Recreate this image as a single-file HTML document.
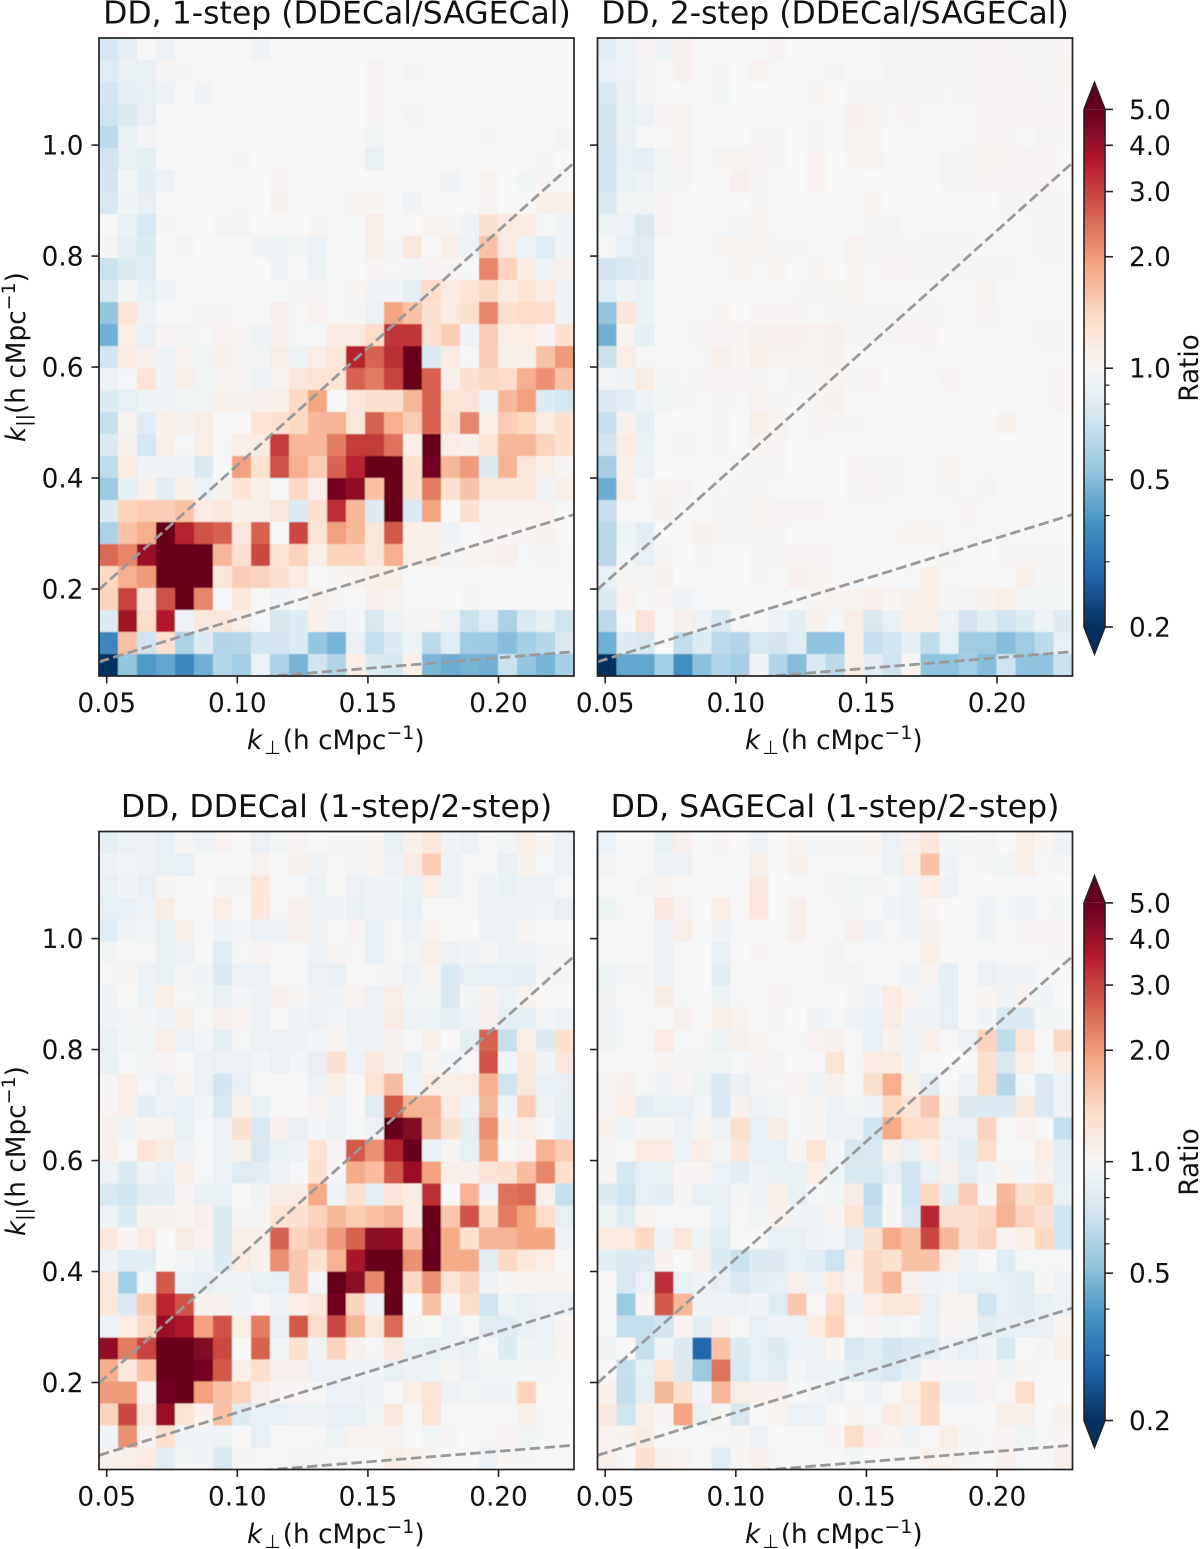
<!DOCTYPE html>
<html lang="en">
<head>
<meta charset="utf-8">
<title>Power spectrum ratio panels</title>
<style>
html,body{margin:0;padding:0;background:#fff;}
svg{display:block;}
text{font-family:"DejaVu Sans","Liberation Sans",sans-serif;fill:#111;}
</style>
</head>
<body>
<svg id="figure" xmlns="http://www.w3.org/2000/svg" width="1200" height="1549" viewBox="0 0 1200 1549">
  <defs>
    <linearGradient id="rdbu" x1="0" y1="1" x2="0" y2="0"></linearGradient>
    <filter id="soften" x="-2%" y="-2%" width="104%" height="104%"><feGaussianBlur stdDeviation="0.6"/></filter>
    <clipPath id="clip-a"><rect x="99" y="38" width="475" height="638"/></clipPath>
    <clipPath id="clip-b"><rect x="597.5" y="38" width="475" height="638"/></clipPath>
    <clipPath id="clip-c"><rect x="99" y="831.5" width="475" height="638"/></clipPath>
    <clipPath id="clip-d"><rect x="597.5" y="831.5" width="475" height="638"/></clipPath>
  </defs>
  <g id="plots"></g>
  <g font-size="31.5" text-anchor="middle">
    <text x="337" y="23.5">DD, 1-step (DDECal/SAGECal)</text>
    <text x="835" y="23.5">DD, 2-step (DDECal/SAGECal)</text>
    <text x="336.5" y="817">DD, DDECal (1-step/2-step)</text>
    <text x="835" y="817">DD, SAGECal (1-step/2-step)</text>
  </g>
  <g font-size="26.3">
    <text x="247" y="749"><tspan font-style="italic">k</tspan><tspan font-size="19" dx="2" dy="5">⊥</tspan><tspan dx="2" dy="-5">(h cMpc</tspan><tspan font-size="19" dy="-10">−1</tspan><tspan dy="10">)</tspan></text>
    <text x="745" y="749"><tspan font-style="italic">k</tspan><tspan font-size="19" dx="2" dy="5">⊥</tspan><tspan dx="2" dy="-5">(h cMpc</tspan><tspan font-size="19" dy="-10">−1</tspan><tspan dy="10">)</tspan></text>
    <text x="247" y="1543"><tspan font-style="italic">k</tspan><tspan font-size="19" dx="2" dy="5">⊥</tspan><tspan dx="2" dy="-5">(h cMpc</tspan><tspan font-size="19" dy="-10">−1</tspan><tspan dy="10">)</tspan></text>
    <text x="745" y="1543"><tspan font-style="italic">k</tspan><tspan font-size="19" dx="2" dy="5">⊥</tspan><tspan dx="2" dy="-5">(h cMpc</tspan><tspan font-size="19" dy="-10">−1</tspan><tspan dy="10">)</tspan></text>
  </g>
  <g font-size="26.3">
    <text transform="translate(25,442) rotate(-90)"><tspan font-style="italic">k</tspan><tspan font-size="19" dy="5">||</tspan><tspan dy="-5">(h cMpc</tspan><tspan font-size="19" dy="-10">−1</tspan><tspan dy="10">)</tspan></text>
    <text transform="translate(25,1236) rotate(-90)"><tspan font-style="italic">k</tspan><tspan font-size="19" dy="5">||</tspan><tspan dy="-5">(h cMpc</tspan><tspan font-size="19" dy="-10">−1</tspan><tspan dy="10">)</tspan></text>
  </g>
  <g font-size="26.3" text-anchor="middle">
    <text transform="translate(1198,368) rotate(-90)">Ratio</text>
    <text transform="translate(1198,1162) rotate(-90)">Ratio</text>
  </g>
</svg>
<script>
// Axis limits and ticks
const kPerpLimits = [0.04705, 0.2289];
const kParLimits = [0.0432, 1.193];
const kPerpTicks = [0.05, 0.10, 0.15, 0.20];
const kPerpTickLabels = ["0.05", "0.10", "0.15", "0.20"];
const kParTicks = [0.2, 0.4, 0.6, 0.8, 1.0];
const kParTickLabels = ["0.2", "0.4", "0.6", "0.8", "1.0"];
const colorbarTicks = [5, 4, 3, 2, 1, 0.5, 0.2];
const colorbarTickLabels = ["5.0", "4.0", "3.0", "2.0", "1.0", "0.5", "0.2"];
const colorbarMinorTicks = [0.9, 0.8, 0.7, 0.6, 0.4, 0.3];
const colorLimits = [0.2, 5];
const wedgeSlopes = [4.23, 1.46, 0.38];
const rdbuStops = ["#053061","#2166ac","#4393c3","#92c5de","#d1e5f0","#f7f7f7","#fddbc7","#f4a582","#d6604d","#b2182b","#67001f"];

// Ratios per cell: top row (highest k-parallel) first, left to right in k-perp
const ratioOneStepDdeOverSage = [
[.75,.85,1,.92,1,1,1,1,.95,1,1,1,1,1,1,1,1,1,1,1,1,1,1,1,1],
[.82,.88,.88,1.02,1.02,1,1,1,1,1,1,1,1,1,1.03,1,1.02,1,1,1,1,1,1,1,1],
[.73,.85,.87,.93,1,.95,1,1,1,1,1,1,1,1,1.03,1,1,1,1,1,1,1,1,1,1],
[.72,.8,.87,1,1,1,1,1,1,1,1,1,1,1,1.03,1,1.02,1,1,1,1,1,1,1,1],
[.65,.88,.97,1,1,1,1,1,1,1,1,1,1,1,.96,1,1,1,1,1,1.02,1,1,1,.97],
[.72,.88,.85,1,1,1,1,1.02,1,1,1,1,1,1,.88,1,1,1,1,1,1,1,1,1.02,1],
[.73,.96,.84,.92,1,1,1,1,1,1.03,1,1,1,1,1,1,1,1,.95,1,1.05,1,.96,1.02,1],
[.76,.95,.87,1,1,1,1,.98,1,1.06,1,1,1,1.04,1.04,1,.94,1,1,1,1.03,1,1,1.1,1.1],
[1,.88,.77,1.02,1,1,.97,.97,1,1,1,1.02,1,1,1.12,1,1,1.04,1.04,.94,1.3,1.15,1.15,.98,.95],
[.97,.85,.8,1,.97,1,1,1,.95,.93,.97,.9,1,1,1.1,1.02,1.2,1,1.1,.93,1.6,1.15,.9,.82,.95],
[.7,.8,.82,1,1,1,1,1,1,.95,1,.92,1,1,1.03,.98,.97,1.03,1.03,.98,2.2,1.45,1.15,.93,1.08],
[.78,.97,.86,.95,1,1,1,1,1,1,.97,1.03,1,1.04,.95,.95,.85,1.35,1.15,1.25,1.4,1.15,1.25,1.15,.93],
[.53,1.25,.92,1,1,1.02,1.02,1,1,1.08,.99,1.05,1,1.02,.9,1.9,1.6,1.3,1.15,1.3,2.2,1.3,1.35,1.35,.92],
[.46,1.12,.88,1.03,.97,.98,1.05,1.02,.93,1.07,.98,.98,1.15,1.15,1.35,3.2,3.2,1.3,1.5,.92,1.5,1.12,1.12,1.05,1.3],
[.73,1.15,1.08,.93,1.05,.96,1.06,1.02,.96,1.12,.93,1.12,1.2,3.5,2.6,3.3,5,.78,1.15,.98,1.5,1.1,1.1,1.6,2],
[.9,.98,1.25,.93,1.1,.96,1.04,1.02,.93,1.05,1.2,1.25,1.25,2.6,2.3,3,5,2.6,1.1,1.3,1.4,1.35,1.8,2.1,1.6],
[.8,.86,.93,.95,.96,.96,1.06,1.06,1.08,1.1,1.4,1.9,1,1.2,1.3,1.3,1.7,2.6,1.25,1.25,.92,1.7,1.95,.8,.75],
[.68,1.05,.82,1.1,1.06,1.12,.98,.99,1.25,1.3,1.4,1.7,1.75,1.2,2.6,1.8,1.5,2.6,1.3,2.2,1.1,1.5,1.4,1.15,1.3],
[.78,1.08,.75,1.1,.98,1.12,.98,1.12,1.15,3.1,1.7,1.7,2.3,3.1,3.1,2.4,1.1,5,1.12,1.08,1.25,1.7,1.7,1.45,1.3],
[.66,1.15,.95,.95,.95,.78,1,1.95,1.3,2.8,1.8,1.5,2.6,3.5,5,5,1.3,4.7,1.7,2,.8,1.75,1.2,1.1,1.02],
[.55,.85,1.08,.83,1.1,.9,1.06,1.25,1.1,.98,1.4,1.1,4.7,4.2,1.6,5,1.3,2.3,1.3,1.6,1.2,1.2,1.2,.95,1.1],
[.8,1.45,1.5,1.5,1.6,1.15,1.2,1.1,1.1,1.2,.8,1.3,3.3,1.7,.8,5,.78,1.9,1,1.3,1.05,1.05,1.05,1.05,.98],
[.6,1.6,1.8,5,3.5,2.8,2.6,1.2,2.6,1,2.9,1.25,1.95,1.7,1.2,2.7,1.1,1.1,.93,1,1.03,1.03,1.03,1.06,1],
[2.5,2.2,4,5,5,5,1.7,1.3,2.9,1.25,1.45,1.1,1.45,1.45,1.2,1.8,1.1,1.1,1.02,1.04,1.05,1.08,.98,.97,.98],
[1.4,1.8,2,5,5,5,1.2,1.5,1.45,1.3,1.15,1,1.02,1.06,1.1,1.1,1,1,1,.98,1,.99,1,1,.99],
[1.45,3,1.25,2.8,5,2.2,1,1.2,1,.93,.98,1.06,1.02,1,1.08,1.05,1,1,1,1.02,1.01,1,1,1,1],
[.8,3.9,1.35,3.6,.9,1.2,1.2,1.1,.98,.75,.8,1.1,.9,.97,.76,.92,1.02,1.02,.92,.7,.82,.6,.78,.85,.72],
[.35,1.6,.72,1.3,.6,.8,.62,.63,.73,.73,.8,.53,.47,.88,.68,.8,.92,.65,.82,.56,.55,.5,.58,.63,.78],
[.2,.53,.4,.43,.35,.46,.63,.57,.9,.6,.47,.73,.62,1.12,.8,.75,1.1,.48,.45,.47,.46,.7,.53,.47,.58]
];
const ratioTwoStepDdeOverSage = [
[.82,.92,1.03,.93,1.07,1,1,1,1,1.03,1,1,1,1,1.01,1.02,1.02,1.02,1.02,1.02,1.03,1.02,1.02,1.02,1.03],
[.87,.9,.97,1,1.07,1,1.02,1,1.05,1,1,1,1.02,1,1,1.02,1.02,1.02,1.02,1.02,1.03,1.03,1.02,1.02,1.04],
[.76,.88,.97,1,1,1,.96,1,1,1,1,1.04,1,1.02,1.02,1.02,1.02,1.02,.99,1.02,1.03,1.03,1.03,1.02,1.03],
[.74,.88,.92,1.03,1.04,1,1,1,1,1,1,1.01,1.01,1.07,1.04,1.01,1.03,1.01,1.01,1.01,1.03,1.03,1.03,1.03,1.03],
[.74,.89,.98,1.01,1.04,1,1,1,1.02,1.02,1,1.02,1,1.05,1.04,1,1,1,1,1.01,1.03,1.03,1,1.02,1.02],
[.73,.86,.85,.96,1.03,1,1.04,1.04,1.03,1.02,1,1.05,1,1.04,1.05,1,1,1,1.02,1.02,1.04,1.02,1.03,1.03,1],
[.73,.88,.9,.96,1.02,1,1,1.08,1.02,1,1,1.05,1,1,1,1,1,1,1.02,1.02,1.03,1.03,1.03,1.03,1],
[.8,.96,.96,1.03,1,1,1.01,1,1.02,1.01,1,1,1,1,1.04,1,1,1,1.01,1,1,1.02,1.02,1.02,1.02],
[.93,.9,.79,1.03,1,.98,.98,.97,1.04,1,1,1,1,1,1.02,1.02,1,1.01,1.01,1.01,1.01,1.01,1.01,1.02,1.02],
[.98,.86,.82,1,1,1.01,1.04,1.04,1.04,1.02,1.02,1.01,1.01,1.05,1.02,1.02,1.02,1.02,1.02,1.02,1.01,1,1.01,1.02,1.02],
[.73,.79,.81,1,1,1,1,1.04,1.01,1.04,1,1.04,1,1.04,1.01,1.03,1.02,1.02,1.02,1.02,1.02,1.02,1.01,1.01,1.01],
[.82,.92,.88,1,1,1,1,1,1,1,1.01,1.02,1.02,1.04,1,1,1,1.01,1.01,1.01,1.05,1,1,1.01,1.01],
[.53,1.25,.89,1,1.01,1.01,1.04,1,1.03,1.03,1.02,1,1.02,1.02,1.02,1.02,1.02,1.02,1.01,1.01,1.03,1.01,1.01,1.01,1.01],
[.46,1.05,.85,.98,.98,1.03,1.03,1.03,1.06,1.07,1.07,1.05,1.08,1.02,1.02,1.02,1.03,1.03,1,1,1.01,1.01,1.01,1.02,1.02],
[.7,1.12,.99,.99,1,1.01,1.08,1.02,1.1,1.05,1.05,1.05,1.06,1,1,1,1,1.01,1,1.01,1,1,1.01,1.01,1.01],
[.97,.94,1.15,.97,.99,1.02,1.03,1.03,1.02,1,1.02,1.02,1.05,1.02,1.03,1,1,1,1.03,1,1,1,1,1.01,1.03],
[.78,.84,.92,.96,1.02,.99,1.02,.98,1.05,1.02,.98,1.02,1.06,1,1,1,1,1,1,1,1,1,1.01,1.01,1.03],
[.68,1.08,.85,1,1,1,1.02,1,1.1,1.05,1,1.03,1.02,1.02,1,1,.98,.99,1,1,1,1.06,1.01,1,1],
[.73,1.15,.89,1,1.02,1.01,1.02,1,1.05,1.03,1,1.01,1,1,1,1,1,1,1,1,1,1,1,1,1],
[.58,1.1,.91,1,1,1,1,1.01,1.02,1.02,1,1,1,1.03,1.02,1.02,1.01,1.01,1.04,1.01,1.01,1.01,1,1,1],
[.45,1.1,.98,1.05,1.02,1,1.01,1.02,1.02,1,1,1,1,1.02,1.03,1.02,1.01,1.01,1.02,1.01,1.02,1,1,1,1],
[.68,.98,.98,1.06,1.01,1,1.02,1.02,1.04,1.03,1.03,1.03,1,1.01,1.01,1,1,1,1,1.03,1,1,1,1,1],
[.64,.93,.84,1,1,1.06,1.02,1.02,1.02,1.02,1,1,1,1,1,1.01,1.04,1.04,1.01,1.01,1.01,1.01,1.01,1,1],
[.64,.96,.87,1.02,1,1.02,1.01,1,1.02,1.02,1.03,1.03,.99,1,1,1,1,1,1.02,1,1,1.02,1.02,1.02,1.02],
[.88,1.02,1.02,1.06,1,1,1,1,1.02,1,1.07,1.04,1.01,.98,1,1,.98,1.09,1.01,1,1,1,1.08,.97,.97],
[.8,1.05,.98,1.03,.94,.98,1.01,1,1,.98,1,1.04,1.05,1.05,1.08,1.04,1.06,1.09,1.02,.97,1.06,1.1,.96,.96,.96],
[.65,.98,1.25,1,1.08,.9,.78,1.01,1,.92,.84,1.06,.98,1.12,.76,.88,1.1,1.1,.9,.73,.83,.73,.8,.92,.8],
[.46,.8,.76,1,.67,.8,.65,.62,.77,.74,.82,.52,.52,1.12,.68,.73,.85,.66,.86,.56,.56,.5,.56,.65,.86],
[.2,.43,.43,.58,.37,.51,.62,.58,.94,.62,.5,.76,.65,1.12,.84,.72,1.03,.52,.52,.57,.5,.72,.52,.52,.7]
];
const ratioDdeOneOverTwoStep = [
[.85,.9,.92,.87,1.02,.95,1.05,1,.9,.96,1.03,1,.97,.97,1.04,.88,1.06,1.2,.95,.92,.98,.96,1.1,1.04,.9],
[.91,.96,.9,.89,.87,1,1,1,1.05,1,1.06,.95,1,.97,1.04,.9,1.15,1.5,.92,.98,.98,.89,1.06,.98,.91],
[.89,.95,.87,1.02,1,1,1.02,.97,1.22,1,.98,.92,1,.9,.94,.94,.89,1.12,.92,.98,.92,.89,.92,.92,.98],
[.86,.87,.9,1.15,1,1,1.12,1,1.22,.98,1.08,.94,.94,.88,.95,.93,.86,1,1,.98,.92,.9,.9,.96,.88],
[.82,.95,.96,.88,1.1,1,.93,.97,.91,.93,1.08,.94,1,1.05,.86,.98,.92,1.05,1,1,.92,.92,1.04,1,1],
[.96,1.01,1.01,.89,.9,1,.82,.99,1.03,.98,.98,.93,1.02,1.01,.86,.99,.96,1.1,.9,.95,.97,.92,.92,.97,.97],
[.98,1.02,.9,.88,.97,.95,.78,.9,.9,1,.98,.9,.89,1,.98,.97,.92,1.05,.78,.89,.86,.86,.85,.97,.97],
[.94,1,.9,1.12,1.01,.96,.88,.97,.95,1.08,1.02,.95,.95,1.05,.9,1.12,.96,.97,.79,.96,1.06,.92,1.06,1,1],
[.95,.97,.97,.95,1.1,1.01,1.08,1.05,.92,1,.95,.9,.97,.92,.9,1.15,.92,.92,.85,.9,1.08,.85,.85,.96,.92],
[.89,.96,.96,1.12,.9,.97,.85,.98,.92,.9,.95,.97,1.05,.92,.9,1.06,1,1.07,1,.85,2.6,.68,1.12,.8,1.3],
[.89,.98,.96,1.03,1,.93,.9,.9,.97,.9,.97,.87,1.3,.9,1.2,1.06,.89,1.02,.94,.98,2.8,.95,1.2,.92,1.2],
[.97,1.12,.98,.9,1.04,.9,.74,.87,1,1,1,.92,1.1,1,1.25,1.65,.9,1.12,1.1,1.12,1.8,.72,1.2,.87,.87],
[1.03,1.1,.84,.9,.87,.96,.76,1.1,.88,1,1,1.03,.92,1,.84,2.7,1.75,1.75,1.15,.93,1.7,.95,1.5,.9,.85],
[1.08,.95,1.05,1.05,.88,.98,.9,1.3,.76,1.08,.89,.97,.91,.98,.93,5,4.5,1.7,1.3,.85,2.1,1.07,1.12,.98,.84],
[1.08,1,1.25,1.15,.94,.98,.9,1.1,.77,.88,.92,1.25,1.03,2.7,2.1,3.5,5,.88,1.02,.86,1.9,1,1.05,1.75,1.5],
[.9,.8,.93,.87,1.1,.98,.9,.82,.84,.91,.98,1.3,.98,1.85,1.65,2.7,4,1.95,1.1,1.08,1.25,1.3,1.65,2.2,1.3],
[.76,.73,.83,.84,1.03,.88,.89,1,.94,1.15,1.15,1.85,.92,1.3,.85,1.25,1.15,3.3,1,1.75,.94,2.4,2.5,1.1,.68],
[.92,.8,1.06,1.06,1.04,1.08,.8,1.02,1.02,1.25,1.3,1.45,1.7,1.5,1.6,1.75,1.12,5,1.55,2.8,1.4,2.3,1.9,1.35,.86],
[1.2,1.02,1.15,1,1.15,1.05,.8,1.1,1.08,2.6,1.45,1.55,2,2.6,4.3,4.2,1.6,5,1.85,1.3,1.75,1.75,1.9,1.9,.92],
[.9,.82,.84,1,.97,.92,.8,1.15,1.06,2.1,1.55,1.3,1.75,3.8,5,5,2.1,5,1.85,1.85,.84,1.4,1.2,1.12,.98],
[1.2,.58,.96,2.7,.87,.85,.92,.95,.88,.86,1.55,.96,5,4.3,2.2,5,1.4,2.1,1.25,1.45,.91,1.02,1.04,1.04,1.04],
[1.2,.78,1.55,3.4,2.8,1.06,1.08,.95,.99,.9,1.12,1.2,4.7,1.45,.9,5,1,1.6,1.03,1.35,.72,.92,.88,.9,.9],
[.9,1.12,1.4,4,3.7,1.95,2.8,1.1,2.3,.88,2.7,1.35,2.9,1.75,1.2,2.5,1.02,1,.91,.99,.82,.82,.88,.9,1.03],
[4.2,2.3,3,5,5,4.5,2.9,1,2.6,.96,1.3,.92,1.45,1.08,.98,1.2,.88,.86,.92,.89,.98,.8,.95,.92,1.04],
[1.8,1.2,1.6,5,5,4.7,2.7,1.1,1.3,1.08,1.08,.9,.9,.93,.93,.89,.92,.93,1.02,.92,.96,.96,.97,.97,.98],
[2,2,1.05,4.8,5,1.95,1.6,1.45,1.08,1.03,1.03,1.01,.9,.9,.94,1,1.1,1.25,.92,.96,.94,.94,1.45,1,1],
[1.45,2.9,1.2,4,1.25,1.07,1.6,.8,.87,.86,.9,.92,.87,.87,.96,1.2,1,1.25,.99,.99,.99,1.01,1.1,.99,.99],
[.93,2.1,1.07,1.3,.93,.95,.93,1,.87,1.01,1,.99,.92,1.05,1.05,1.05,1,.96,1.02,1,.99,1.03,.96,.98,1],
[1.06,1.1,1.15,.84,.96,.94,.78,1.02,1.01,1,.97,.97,.99,1.01,1,1.12,1.07,1.03,1,1,.9,1.04,.97,.99,.99]
];
const ratioSageOneOverTwoStep = [
[.91,1,1,.89,1.08,1,1.03,1,.94,1,1.04,.97,.97,.97,1.04,.9,1.07,1.22,.96,.97,1.02,1,1.1,1.04,.93],
[.96,1,1,.91,.91,1,1.01,1,1.1,1,1.06,.99,1.01,1,1,.93,1.12,1.6,.95,1.01,.97,.96,1.1,.99,.97],
[1,1,.97,1.04,1,1,1,1,1.2,1,1,1,1.02,.96,.97,.98,.94,1.12,.92,1,1,.98,.98,1,1],
[.93,1.01,1,1.2,1.05,1,1.12,1,1.22,1,1.08,1,.98,.97,1,.95,.92,1.03,1,1,.95,.98,.95,.98,.96],
[.98,.99,.98,.92,1.1,1,.95,1,1,1,1.08,1,1.01,1.08,.95,1.01,.94,1.06,1,1,.95,1,1.03,1.03,1.03],
[.98,1,1,.92,1,1,.88,1,1.03,1,1,1,1.02,1,.98,1.01,.98,1.1,1,1,1.01,1,1,1.01,1.02],
[.93,.97,.97,.92,1.01,1,.83,1,1,1,1.01,.98,.97,1.02,1,1,.94,1.05,.85,1,.9,.94,.94,.99,.98],
[.94,1,.98,1.15,1.01,1,.93,1.01,1,1.03,1.01,1,1,1.02,.95,1.15,1.04,.96,.85,1,1.04,.95,1.05,.95,1],
[.94,.98,.99,1,1.08,1,1.1,1.05,1,1.02,1,.95,.99,.95,.87,1.15,.95,.95,.87,1,.95,.78,.78,.96,.96],
[.94,.99,.98,1.17,.98,1.01,.93,1.06,1.04,1,1.01,1.05,1.08,.98,.87,1.07,.93,1.1,.98,.9,1.45,.66,1.25,.98,1.4],
[1,1,1,1.04,1.02,.97,.96,.98,1.03,1.02,1,.98,1.25,.98,1.18,1.15,.94,1,1,1,1.3,.77,1.12,.99,1.1],
[1.03,1.07,.98,.94,1.03,.93,.79,.88,1.02,1.01,1.03,.94,1.08,1,1.3,1.8,1.1,.85,1,.92,1.35,.63,.98,.78,.91],
[1.03,1.12,.84,.88,.87,.97,.79,1.08,.9,.96,1.01,1.02,.93,.96,.91,1.4,1.25,1.55,1.06,.8,.8,.8,1.2,.78,.91],
[1.06,.93,1.02,1.02,.9,1.04,.93,1.3,.87,1.13,.98,1.02,.91,.91,.72,1.85,1.35,1.35,.9,.9,1.45,1,1.05,.99,.68],
[1.02,.99,1.16,1.16,.9,1.13,.96,1.2,.87,.87,1.03,1.25,.97,.76,.76,1.1,.88,1.12,.93,.84,1.35,.98,1,1.12,.84],
[1.02,.75,.86,.89,1.03,1.03,.9,.84,.93,.88,.88,1.12,.92,.76,.76,.87,.72,.89,1.08,.85,.94,1.04,.97,1.08,.85],
[.8,.72,.86,.83,1.02,.88,.87,.97,.95,1.1,.88,.98,.96,1.15,.66,1.03,.72,1.4,.84,1.5,1.02,1.7,1.3,1.4,.88],
[.93,.84,1.05,.98,.98,.99,.86,1.01,.96,1.08,.94,.94,1.03,1.25,.7,1.02,.76,3.4,1.3,1.3,1.4,1.75,1.45,1.3,.72],
[1.15,1.18,1.4,.94,1.2,.93,.84,1.01,.99,.87,.89,.95,.96,.82,1.3,1.85,1.6,2.9,1.7,1.3,1.45,1.05,1.1,1.4,.72],
[.84,.8,.8,1.08,1,1.08,.8,.7,.8,.81,.86,.82,.71,1.13,1.4,1.3,1.6,1.6,1.13,.91,1,.82,.98,.98,.98],
[1,.76,.9,3.3,.89,.93,.87,.78,.84,.87,1.08,.93,1.15,1.05,1.4,1.7,1.08,.94,.96,.86,.88,.86,.83,1.02,.92],
[1,.55,1.05,2.7,1.7,.94,.93,.91,.95,.82,1.55,1,1.35,.92,1.12,1.2,1.2,.88,1.05,1.05,.72,.87,.83,.88,.91],
[1,.68,.68,.73,1.05,.83,1.08,.99,.87,.91,.91,1.15,1.45,.99,1.03,.96,.98,.88,1.03,1.02,.84,.85,.87,.88,1.05],
[.94,1,.68,.93,.8,.28,1.6,.8,.86,.81,.9,.92,1.04,.76,.83,.73,.78,.8,.93,.87,.93,.76,1,.97,1.1],
[1,.68,.86,1.25,.79,.55,2.4,.76,.87,.83,.97,.92,.92,.82,.82,.77,.85,1.03,1.02,1.02,1.03,.95,1.03,.98,.98],
[1.07,.67,.85,1.7,1.3,.94,1.7,1.12,1.08,1.08,1,.97,.92,1,.93,1,1.12,1.4,.93,.93,1.03,1,1.35,1,1],
[1.2,.72,1.1,1.03,1.9,.88,1.02,.76,1,1.05,.9,.9,1,1.04,.98,1.15,1.08,1.4,.98,.98,1,1.1,1.1,1,1.06],
[1.05,1.06,1.15,1,1,.98,1.01,1.02,.92,1,1,1,1.05,1.35,1.07,1.03,.95,1,1.1,1.02,1.01,1.03,.96,.98,1.03],
[1.08,.99,1.3,1.06,1.05,.99,.82,1.02,1.08,1.01,1.01,1,1,.96,1,1,1,1.07,1.06,1.02,1,1.07,.98,.98,1.08]
];

const SVG_NS = "http://www.w3.org/2000/svg";
const plots = document.getElementById("plots");

function make(tag, attrs, parent) {
  const el = document.createElementNS(SVG_NS, tag);
  for (const k in attrs) el.setAttribute(k, attrs[k]);
  parent.appendChild(el);
  return el;
}

function colorFor(v) {
  const t = Math.log(v) / Math.log(colorLimits[1]);
  const pos = Math.min(1, Math.max(0, (t + 1) / 2)) * (rdbuStops.length - 1);
  const i = Math.min(rdbuStops.length - 2, Math.floor(pos));
  const f = pos - i;
  const a = parseInt(rdbuStops[i].slice(1), 16);
  const b = parseInt(rdbuStops[i + 1].slice(1), 16);
  const mix = s => Math.round(((a >> s) & 255) * (1 - f) + ((b >> s) & 255) * f);
  return "rgb(" + mix(16) + "," + mix(8) + "," + mix(0) + ")";
}

const gradient = document.getElementById("rdbu");
rdbuStops.forEach((c, i) => {
  make("stop", { offset: i / (rdbuStops.length - 1), "stop-color": c }, gradient);
});

function drawPanel(name, data, left, top, clipId) {
  const W = 475, H = 638;
  const xScale = k => left + (k - kPerpLimits[0]) / (kPerpLimits[1] - kPerpLimits[0]) * W;
  const yScale = k => top + H - (k - kParLimits[0]) / (kParLimits[1] - kParLimits[0]) * H;
  const g = make("g", {}, plots);
  
  
  make("rect", { x: left, y: top, width: W, height: H, fill: "#f7f7f7" }, g);

  const clipped = make("g", { "clip-path": "url(#" + clipId + ")" }, g);
  
  
  const cells = make("g", { filter: "url(#soften)" }, clipped);
  const rows = data.length;
  const cols = data[0].length;
  const dx = (kPerpLimits[1] - kPerpLimits[0]) / cols;
  const dy = (kParLimits[1] - kParLimits[0]) / rows;
  data.forEach((row, r) => {
    row.forEach((v, c) => {
      const x0 = xScale(kPerpLimits[0] + c * dx);
      const x1 = xScale(kPerpLimits[0] + (c + 1) * dx);
      const y0 = yScale(kParLimits[1] - r * dy);
      const y1 = yScale(kParLimits[1] - (r + 1) * dy);
      const cell = make("rect", { x: x0, y: y0, width: x1 - x0, height: y1 - y0, fill: colorFor(v), "shape-rendering": "crispEdges" }, cells);
      
      
    });
  });

  wedgeSlopes.forEach(m => {
    const line = make("line", {
      x1: xScale(kPerpLimits[0]), y1: yScale(m * kPerpLimits[0]),
      x2: xScale(kPerpLimits[1]), y2: yScale(m * kPerpLimits[1]),
      stroke: "#999999", "stroke-width": 2.8, "stroke-dasharray": "10.4 4.5",
      "clip-path": "url(#" + clipId + ")"
    }, g);
    
    
  });

  const frame = make("rect", { x: left, y: top, width: W, height: H, fill: "none", stroke: "#222", "stroke-width": 1.7 }, g);
  
  

  kPerpTicks.forEach((k, i) => {
    const x = xScale(k);
    const tick = make("line", { x1: x, y1: top + H, x2: x, y2: top + H + 7.5, stroke: "#222", "stroke-width": 1.6 }, g);
    
    
    const label = make("text", { x: x, y: top + H + 36, "font-size": 26.3, "text-anchor": "middle" }, g);
    label.textContent = kPerpTickLabels[i];
    
    
  });

  kParTicks.forEach((k, i) => {
    const y = yScale(k);
    const tick = make("line", { x1: left - 7.5, y1: y, x2: left, y2: y, stroke: "#222", "stroke-width": 1.6 }, g);
    
    
    if (left < 300) {
      const label = make("text", { x: left - 15.5, y: y + 9.5, "font-size": 26.3, "text-anchor": "end" }, g);
      label.textContent = kParTickLabels[i];
      
      
    }
  });
}

function drawColorbar(name, offset) {
  const left = 1084, right = 1105, cbTop = 109.4 + offset, cbBottom = 627 + offset;
  const yScale = v => cbBottom - (Math.log(v) - Math.log(colorLimits[0])) / (Math.log(colorLimits[1]) - Math.log(colorLimits[0])) * (cbBottom - cbTop);
  const mid = (left + right) / 2;
  const g = make("g", {}, plots);
  
  
  make("polygon", { points: left + "," + cbTop + " " + mid + "," + (cbTop - 27) + " " + right + "," + cbTop, fill: rdbuStops[rdbuStops.length - 1] }, g);
  make("polygon", { points: left + "," + cbBottom + " " + mid + "," + (cbBottom + 27) + " " + right + "," + cbBottom, fill: rdbuStops[0] }, g);
  make("rect", { x: left, y: cbTop, width: right - left, height: cbBottom - cbTop, fill: "url(#rdbu)" }, g);
  make("polygon", {
    points: left + "," + cbTop + " " + mid + "," + (cbTop - 27) + " " + right + "," + cbTop + " " + right + "," + cbBottom + " " + mid + "," + (cbBottom + 27) + " " + left + "," + cbBottom,
    fill: "none", stroke: "#222", "stroke-width": 1.6
  }, g);
  colorbarTicks.forEach((v, i) => {
    const y = yScale(v);
    const tick = make("line", { x1: right, y1: y, x2: right + 8, y2: y, stroke: "#222", "stroke-width": 1.6 }, g);
    
    
    const label = make("text", { x: 1129, y: y + 9.5, "font-size": 26.3 }, g);
    label.textContent = colorbarTickLabels[i];
    
    
  });
  colorbarMinorTicks.forEach(v => {
    const y = yScale(v);
    const tick = make("line", { x1: right, y1: y, x2: right + 4.5, y2: y, stroke: "#222", "stroke-width": 1.2 }, g);
    
    
  });
}

drawPanel("one-step-dde-sage", ratioOneStepDdeOverSage, 99, 38, "clip-a");
drawPanel("two-step-dde-sage", ratioTwoStepDdeOverSage, 597.5, 38, "clip-b");
drawPanel("dde-one-two-step", ratioDdeOneOverTwoStep, 99, 831.5, "clip-c");
drawPanel("sage-one-two-step", ratioSageOneOverTwoStep, 597.5, 831.5, "clip-d");
drawColorbar("colorbar-top", 0);
drawColorbar("colorbar-bottom", 793.5);
</script>
</body>
</html>
